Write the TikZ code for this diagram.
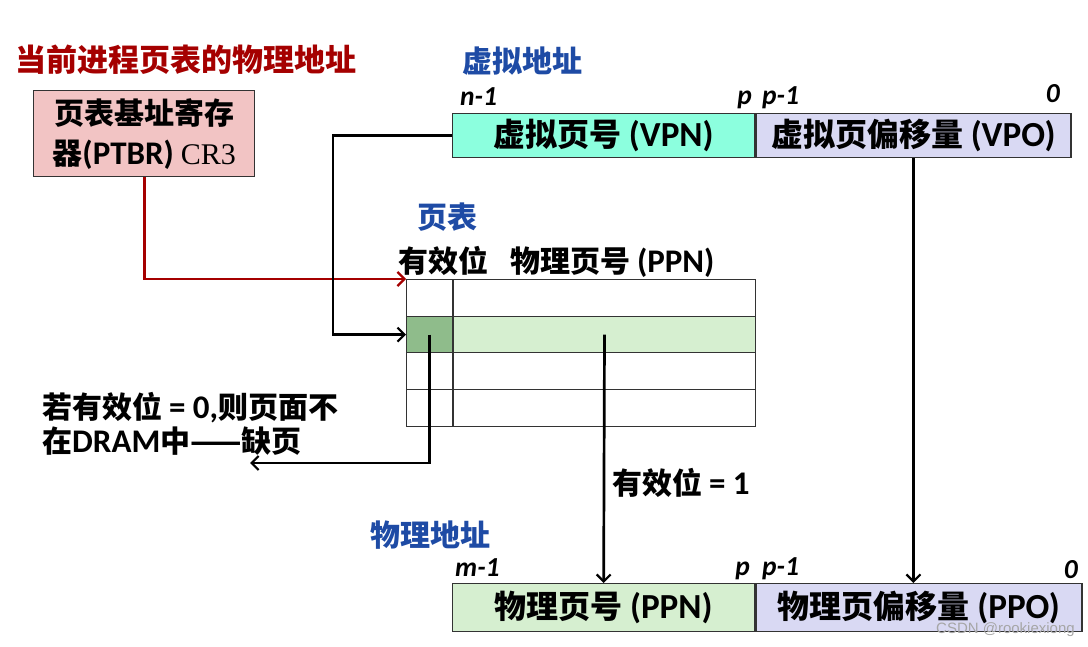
\documentclass[tikz,border=0pt]{standalone}
\usepackage{fontspec}
\setmainfont{Noto Sans CJK SC}
\newfontfamily\lat[Scale=1.1]{Carlito}
\newfontfamily\tms{Liberation Serif}
\newfontfamily\arl{Liberation Sans}
\usetikzlibrary{arrows.meta}
\definecolor{darkred}{RGB}{165,0,0}
\definecolor{titleblue}{RGB}{30,75,165}
\definecolor{pinkfill}{RGB}{242,196,196}
\definecolor{aqua}{RGB}{140,255,222}
\definecolor{lav}{RGB}{217,217,243}
\definecolor{lgreen}{RGB}{214,239,208}
\definecolor{dgreen}{RGB}{143,188,139}
\begin{document}
\begin{tikzpicture}[x=1pt,y=-1pt,
  box/.style={draw=black!80, line width=1.3pt, anchor=north west, inner sep=0pt,
    font=\bfseries\fontsize{32}{36}\selectfont},
  cell/.style={draw=black!80, line width=1pt, anchor=north west, inner sep=0pt,
    minimum height=36.75pt},
  lbl/.style={inner sep=0pt, anchor=base west, font=\bfseries\fontsize{30}{34}\selectfont},
  head/.style={lbl, text=titleblue},
  idx/.style={inner sep=0pt, anchor=base west, font=\lat\bfseries\itshape\fontsize{25}{28}\selectfont},
  conn/.style={line width=2.7pt, -{Straight Barb[length=7pt,width=14pt,line width=2.2pt]}},
]
\useasboundingbox (0,0) rectangle (1088,647);

% title
\node[lbl, text=darkred, font=\bfseries\fontsize{31}{34}\selectfont] (title) at (15,72) {当前进程页表的物理地址};

% PTBR box
\node[box, fill=pinkfill, minimum width=221pt, minimum height=86pt, align=center,
  font=\bfseries\fontsize{30}{40}\selectfont] (ptbr) at (33,90)
  {页表基址寄存\\器{\lat (PTBR)} {\tms\mdseries CR3}};

% virtual address
\node[head] (vahead) at (462,73) {虚拟地址};
\node[idx] (vn1) at (460,106) {n-1};
\node[idx, anchor=base east] (vp) at (752,105) {p};
\node[idx] (vp1) at (762,105) {p-1};
\node[idx, anchor=base east] (v0) at (1060,103) {0};
\node[box, fill=aqua, minimum width=302pt, minimum height=44pt] (vpn) at (452,113) {虚拟页号 {\lat (VPN)}};
\node[box, fill=lav, minimum width=315pt, minimum height=44pt] (vpo) at (vpn.north east) {虚拟页偏移量 {\lat (VPO)}};

% page table
\node[head] (pthead) at (417,229) {页表};
\node[lbl] (validhead) at (398,273) {有效位};
\node[lbl] (ppnhead) at (510,273) {物理页号 {\lat (PPN)}};

\node[cell, minimum width=46pt] (t11) at (406,279) {};
\node[cell, minimum width=302pt] (t12) at (t11.north east) {};
\node[cell, minimum width=46pt, fill=dgreen] (t21) at (406,315.75) {};
\node[cell, minimum width=302pt, fill=lgreen] (t22) at (t21.north east) {};
\node[cell, minimum width=46pt] (t31) at (406,352.5) {};
\node[cell, minimum width=302pt] (t32) at (t31.north east) {};
\node[cell, minimum width=46pt] (t41) at (406,389.25) {};
\node[cell, minimum width=302pt] (t42) at (t41.north east) {};

% page fault text
\node[lbl] (miss1) at (42,418) {若有效位 {\lat = 0,}则页面不};
\node[lbl] (miss2) at (42,452) {在{\lat DRAM}中——缺页};

\node[lbl] (valid1) at (612,494) {有效位 {\lat = 1}};

% physical address
\node[head] (pahead) at (370,546) {物理地址};
\node[idx] (pm1) at (455,576) {m-1};
\node[idx, anchor=base east] (pp) at (750,575) {p};
\node[idx] (pp1) at (762,575) {p-1};
\node[idx, anchor=base east] (p0) at (1078,578) {0};
\node[box, fill=lgreen, minimum width=302pt, minimum height=48pt] (ppn) at (452,583) {物理页号 {\lat (PPN)}};
\node[box, fill=lav, minimum width=326pt, minimum height=48pt] (ppo) at (ppn.north east) {物理页偏移量 {\lat (PPO)}};

\node[inner sep=0pt, anchor=base east, text=black!35, font=\arl\fontsize{15}{17}\selectfont] (wm) at (1075,633) {CSDN @rookiexiong};

% connectors
\coordinate (bendx) at (333,0);
\coordinate (miss) at (250,463);
\draw[conn, draw=darkred] (ptbr.south) |- (t11.north west);
\draw[conn] (vpn.west) -- (vpn.west -| bendx) |- (t21.west);
\draw[conn] (t21.center) |- (miss);
\draw[conn] (t22.center) -- (ppn.north);
\draw[conn] (vpo.south) -- (vpo.south |- ppo.north);
\end{tikzpicture}
\end{document}
